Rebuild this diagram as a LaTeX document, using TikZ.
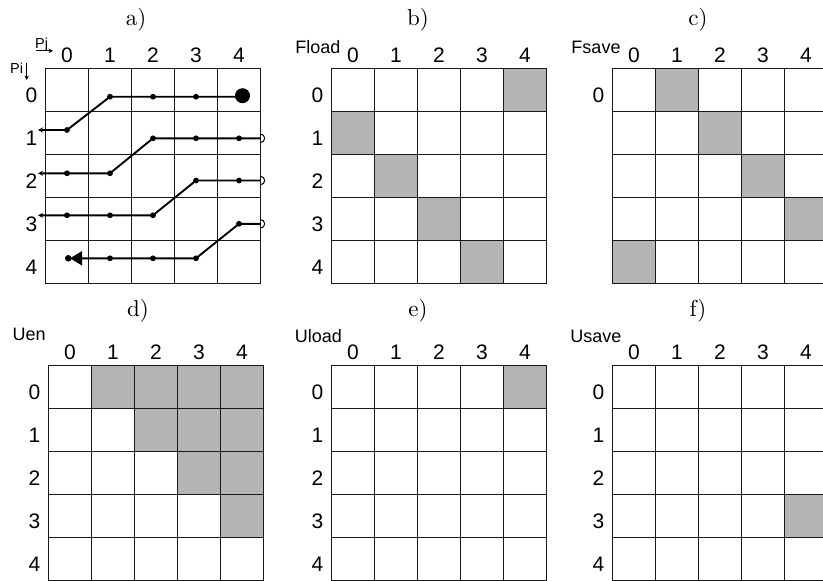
\documentclass[tikz,border=0pt]{standalone}
\usepackage{fontspec}
\newfontfamily\arialf{Liberation Sans}
\newfontfamily\cmten{lmroman10-regular.otf}
\usetikzlibrary{arrows.meta}
\definecolor{cellgray}{RGB}{180,180,180}
\newcommand{\mygrid}[4]{% #1 name, #2 ox, #3 oy, #4 gray cells row/col
  \foreach \r/\cc in {#4} {\fill[cellgray] (#2+\cc*43, #3+\r*43) rectangle ++(43,43);}
  \foreach \k in {0,...,5} {
    \draw[gridline] (#2+\k*43, #3) -- ++(0,215);
    \draw[gridline] (#2, #3+\k*43) -- ++(215,0);
  }
  \foreach \k in {0,...,4} {\node[num] (#1-h\k) at (#2+\k*43+21.5, #3-6) {\k};}
}
\newcommand{\rowlabels}[4]{% #1 name, #2 ox, #3 oy, #4 list
  \foreach \k in {#4} {\node[num] (#1-r\k) at (#2-14, #3+\k*43+33.5) {\k};}
}
\begin{document}
\begin{tikzpicture}[x=1pt,y=-1pt,
  gridline/.style={line width=1.5pt, draw=black!90, line cap=rect},
  num/.style={font=\arialf\fontsize{21}{21}\selectfont, anchor=base, inner sep=0pt},
  lbl/.style={font=\arialf\fontsize{18}{18}\selectfont, anchor=base, inner sep=0pt},
  smalllbl/.style={font=\arialf\fontsize{14.5}{14.5}\selectfont, anchor=base west, inner sep=0pt},
  ttl/.style={font=\cmten\fontsize{23}{23}\selectfont, anchor=base, inner sep=0pt},
  trace/.style={line width=1.9pt, line join=round},
  smalltip/.style={-{Stealth[length=5pt,width=5pt]}}
]
\useasboundingbox (0,0) rectangle (823,581);
\fill[white] (0,0) rectangle (823,581);

% titles
\node[ttl] (ta) at (136,25.2) {a)};
\node[ttl] (tb) at (418,25.2) {b)};
\node[ttl] (tc) at (698,25.2) {c)};
\node[ttl] (td) at (138,316.2) {d)};
\node[ttl] (te) at (418,316.2) {e)};
\node[ttl] (tf) at (698,316.2) {f)};

% grids
\mygrid{a}{45.5}{68.5}{0/0}
\mygrid{b}{331.5}{68.5}{0/4,1/0,2/1,3/2,4/3}
\mygrid{c}{612.5}{68.5}{0/1,1/2,2/3,3/4,4/0}
\mygrid{d}{48.5}{365.5}{0/1,0/2,0/3,0/4,1/2,1/3,1/4,2/3,2/4,3/4}
\mygrid{e}{331.5}{365.5}{0/4}
\mygrid{f}{612.5}{365.5}{3/4}
% panel a has no gray: repaint its first cell white
\fill[white] (46.3,69.3) rectangle (87.7,110.7);
\rowlabels{a}{45.5}{68.5}{0,...,4}
\rowlabels{b}{331.5}{68.5}{0,...,4}
\rowlabels{c}{612.5}{68.5}{0}
\rowlabels{d}{48.5}{365.5}{0,...,4}
\rowlabels{e}{331.5}{365.5}{0,...,4}
\rowlabels{f}{612.5}{365.5}{0,...,4}

% corner labels
\node[lbl] (fload) at (318,53.3) {Fload};
\node[lbl] (fsave) at (596,53.3) {Fsave};
\node[lbl] (uen) at (29.2,340) {Uen};
\node[lbl] (uload) at (318.3,342.3) {Uload};
\node[lbl] (usave) at (596,342.3) {Usave};

% Pj / Pi
\node[smalllbl] (pj) at (35,48.3) {Pj};
\node[smalllbl] (pi) at (10,73.3) {Pi};
\coordinate (pja) at (36,50.8);
\coordinate (pjb) at (53,50.8);
\coordinate (pia) at (26.7,63);
\coordinate (pib) at (26.7,80);
\draw[line width=0.9pt,-{Stealth[length=4.5pt,width=4.5pt]}] (pja) -- (pjb);
\draw[line width=0.9pt,-{Stealth[length=4.5pt,width=4.5pt]}] (pia) -- (pib);

% traces in panel a (column centres 67,110,153,196,239; right edge 260.5)
% path 1
\coordinate (p1a) at (241,96.7);
\coordinate (p1b) at (110,96.7);
\coordinate (p1c) at (67,130);
\coordinate (p1d) at (38,130);
\draw[trace,smalltip] (p1a) -- (p1b) -- (p1c) -- (p1d);
\fill (242.5,95.7) circle[radius=7.5pt];
\foreach \xx in {110,153,196} {\fill (\xx,96.7) circle[radius=2.9pt];}
\fill (67,130) circle[radius=2.9pt];
% path 2
\coordinate (p2a) at (260.5,138.3);
\coordinate (p2b) at (153,138.3);
\coordinate (p2c) at (110,173.3);
\coordinate (p2d) at (38,173.3);
\draw[trace,smalltip] (p2a) -- (p2b) -- (p2c) -- (p2d);
\foreach \xx in {153,196,239} {\fill (\xx,138.3) circle[radius=2.9pt];}
\foreach \xx in {67,110} {\fill (\xx,173.3) circle[radius=2.9pt];}
% path 3
\coordinate (p3a) at (260.5,180.5);
\coordinate (p3b) at (196,180.5);
\coordinate (p3c) at (153,215.3);
\coordinate (p3d) at (38,215.3);
\draw[trace,smalltip] (p3a) -- (p3b) -- (p3c) -- (p3d);
\foreach \xx in {196,239} {\fill (\xx,180.5) circle[radius=2.9pt];}
\foreach \xx in {67,110,153} {\fill (\xx,215.3) circle[radius=2.9pt];}
% path 4
\coordinate (p4a) at (260.5,223.8);
\coordinate (p4b) at (239,223.8);
\coordinate (p4c) at (196,258.3);
\coordinate (p4d) at (70,258.3);
\draw[trace,-{Triangle[length=12pt,width=14pt]}] (p4a) -- (p4b) -- (p4c) -- (p4d);
\fill (239,223.8) circle[radius=2.9pt];
\foreach \xx in {110,153,196} {\fill (\xx,258.3) circle[radius=2.9pt];}
\fill (68.3,258.3) circle[radius=3.3pt];
% open semicircles at right edge
\foreach \yy in {138.3,180.5,223.8} {\draw[line width=1pt] (260.5,\yy+4.2) arc[start angle=90,end angle=-90,radius=4.2];}
\end{tikzpicture}
\end{document}
